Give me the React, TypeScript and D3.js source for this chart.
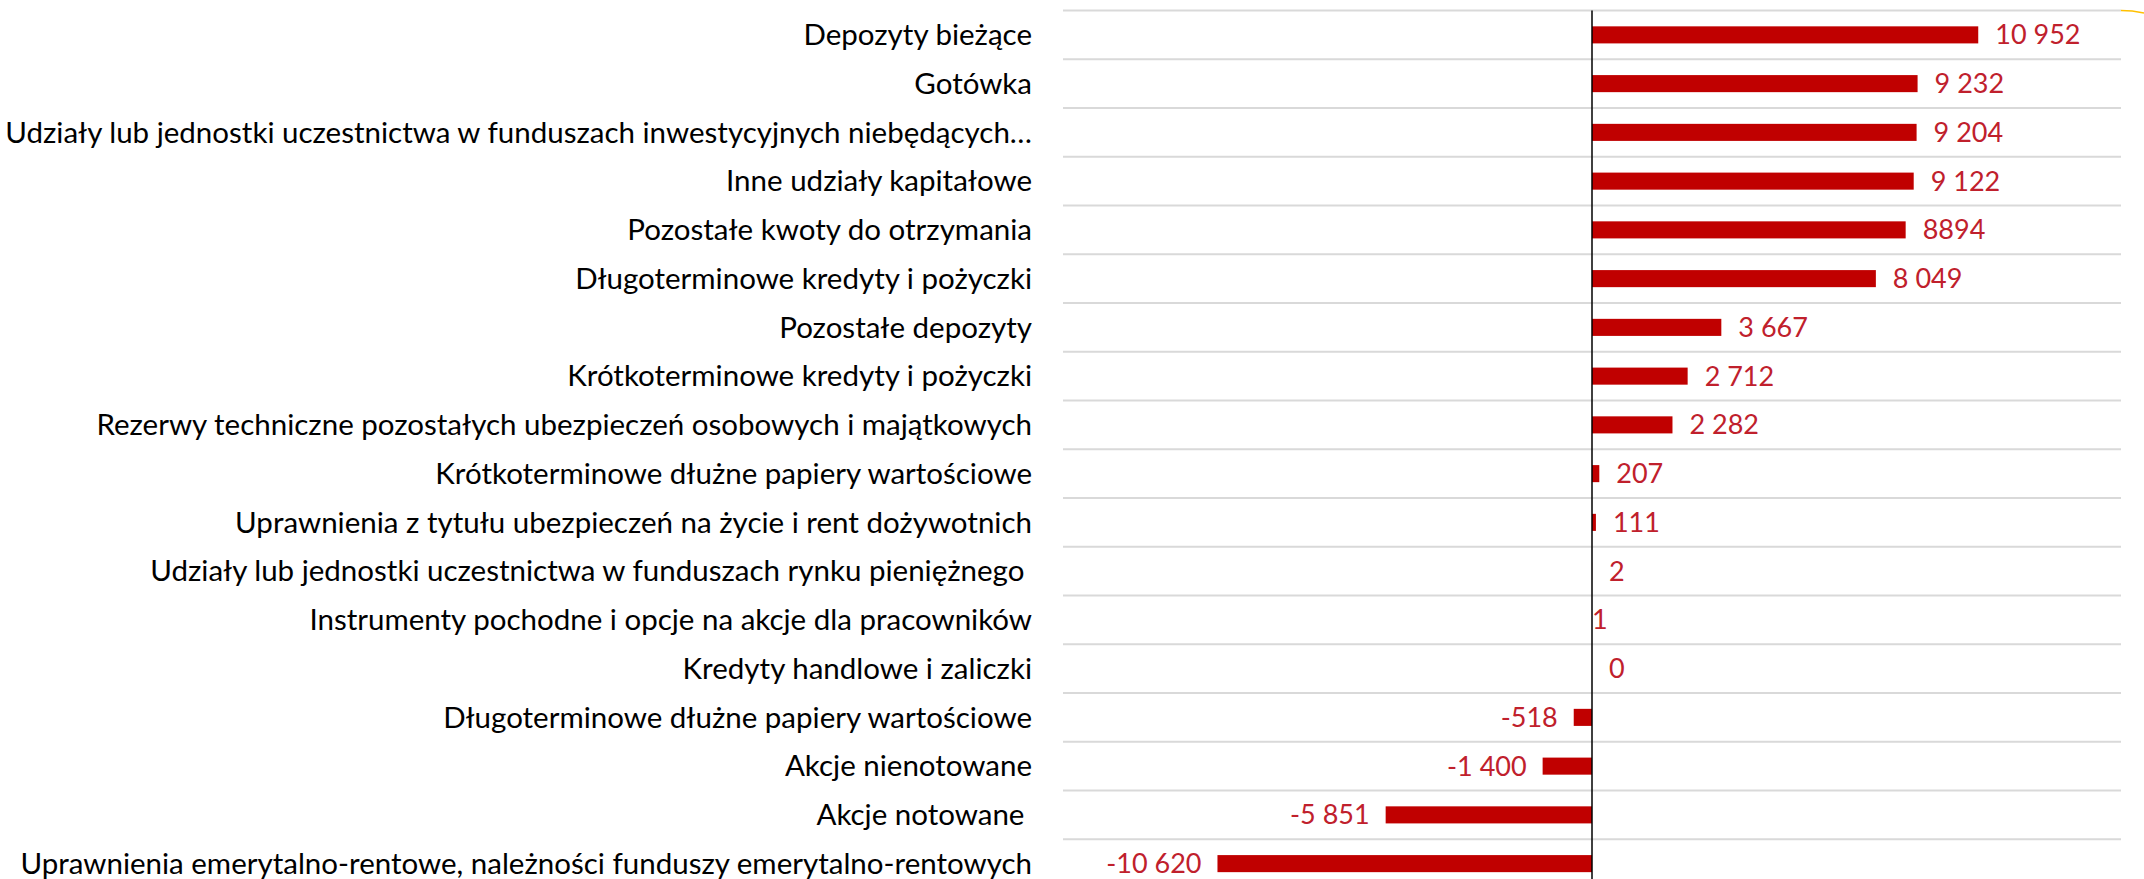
import React, { useRef, useEffect } from 'react'
import { select, scaleBand, scaleLinear } from 'd3'

// categories, top to bottom
const categories = [
    'Depozyty bieżące',
    'Gotówka',
    'Udziały lub jednostki uczestnictwa w funduszach inwestycyjnych niebędących…',
    'Inne udziały kapitałowe',
    'Pozostałe kwoty do otrzymania',
    'Długoterminowe kredyty i pożyczki',
    'Pozostałe depozyty',
    'Krótkoterminowe kredyty i pożyczki',
    'Rezerwy techniczne pozostałych ubezpieczeń osobowych i majątkowych',
    'Krótkoterminowe dłużne papiery wartościowe',
    'Uprawnienia z tytułu ubezpieczeń na życie i rent dożywotnich',
    'Udziały lub jednostki uczestnictwa w funduszach rynku pieniężnego ',
    'Instrumenty pochodne i opcje na akcje dla pracowników',
    'Kredyty handlowe i zaliczki',
    'Długoterminowe dłużne papiery wartościowe',
    'Akcje nienotowane',
    'Akcje notowane ',
    'Uprawnienia emerytalno-rentowe, należności funduszy emerytalno-rentowych',
]

const values = [10952, 9232, 9204, 9122, 8894, 8049, 3667, 2712, 2282, 207, 111, 2, 1, 0, -518, -1400, -5851, -10620]

// labels as printed (one has no thousands space)
const valueLabels = ['10 952', '9 232', '9 204', '9 122', '8894', '8 049', '3 667', '2 712', '2 282', '207', '111', '2', '1', '0', '-518', '-1 400', '-5 851', '-10 620']

// this label sits right on the axis in the original
const labelsOnAxis = ['Instrumenty pochodne i opcje na akcje dla pracowników']

const xDomain = [-15000, 15000]

const W = 2144
const H = 879
const FONT = 'Lato, "Open Sans", sans-serif'

const App = () => {
    const svgRef = useRef(null)

    useEffect(() => {
        const svg = select(svgRef.current)
        svg.selectAll('*').remove()

        const top = 10.5
        const step = 48.75
        const yScale = scaleBand()
            .domain(categories)
            .range([top, top + step * categories.length])
            .paddingInner(0.65)
            .paddingOuter(0.325)

        const xScale = scaleLinear().domain(xDomain).range([1063, 2121])
        const x0 = xScale(0)

        // gridlines between the rows
        svg.append('g')
            .selectAll('line')
            .data(categories.concat(['']))
            .join('line')
            .attr('x1', xScale(xDomain[0]))
            .attr('x2', xScale(xDomain[1]))
            .attr('y1', (d, i) => top + i * yScale.step())
            .attr('y2', (d, i) => top + i * yScale.step())
            .attr('stroke', '#d9d9d9')
            .attr('stroke-width', 2)

        // bars
        svg.append('g')
            .selectAll('rect')
            .data(categories)
            .join('rect')
            .attr('x', (d, i) => Math.min(x0, xScale(values[i])))
            .attr('width', (d, i) => Math.abs(xScale(values[i]) - x0))
            .attr('y', d => yScale(d))
            .attr('height', yScale.bandwidth())
            .attr('fill', '#c00000')

        // zero axis
        svg.append('line')
            .attr('x1', x0).attr('x2', x0)
            .attr('y1', top).attr('y2', H)
            .attr('stroke', '#000')
            .attr('stroke-width', 1.5)

        // category labels
        svg.append('g')
            .selectAll('text')
            .data(categories)
            .join('text')
            .attr('x', 1032)
            .attr('y', d => yScale(d) + yScale.bandwidth() / 2)
            .attr('dy', '0.35em')
            .attr('text-anchor', 'end')
            .attr('font-family', FONT)
            .attr('font-size', 29.5)
            .attr('fill', '#000')
            .style('white-space', 'pre')
            .text(d => d)

        // value labels
        svg.append('g')
            .selectAll('text')
            .data(categories)
            .join('text')
            .attr('x', (d, i) => {
                if (labelsOnAxis.includes(d)) return x0
                return values[i] < 0 ? xScale(values[i]) - 16 : xScale(values[i]) + 17
            })
            .attr('y', d => yScale(d) + yScale.bandwidth() / 2)
            .attr('dy', '0.35em')
            .attr('text-anchor', (d, i) => values[i] < 0 ? 'end' : 'start')
            .attr('font-family', FONT)
            .attr('font-size', 27)
            .attr('fill', '#c0202c')
            .text((d, i) => valueLabels[i])

        // stray yellow border fragment at the top right
        svg.append('path')
            .attr('d', `M${xScale(xDomain[1])},${top} Q2132,${top} ${W},${top + 2.5}`)
            .attr('fill', 'none')
            .attr('stroke', '#ffc000')
            .attr('stroke-width', 1.5)
    }, [])

    return (
        <svg
            ref={svgRef}
            width={W}
            height={H}
            style={{ position: 'absolute', left: 0, top: 0, background: 'white' }}
        />
    )
}

export default App
